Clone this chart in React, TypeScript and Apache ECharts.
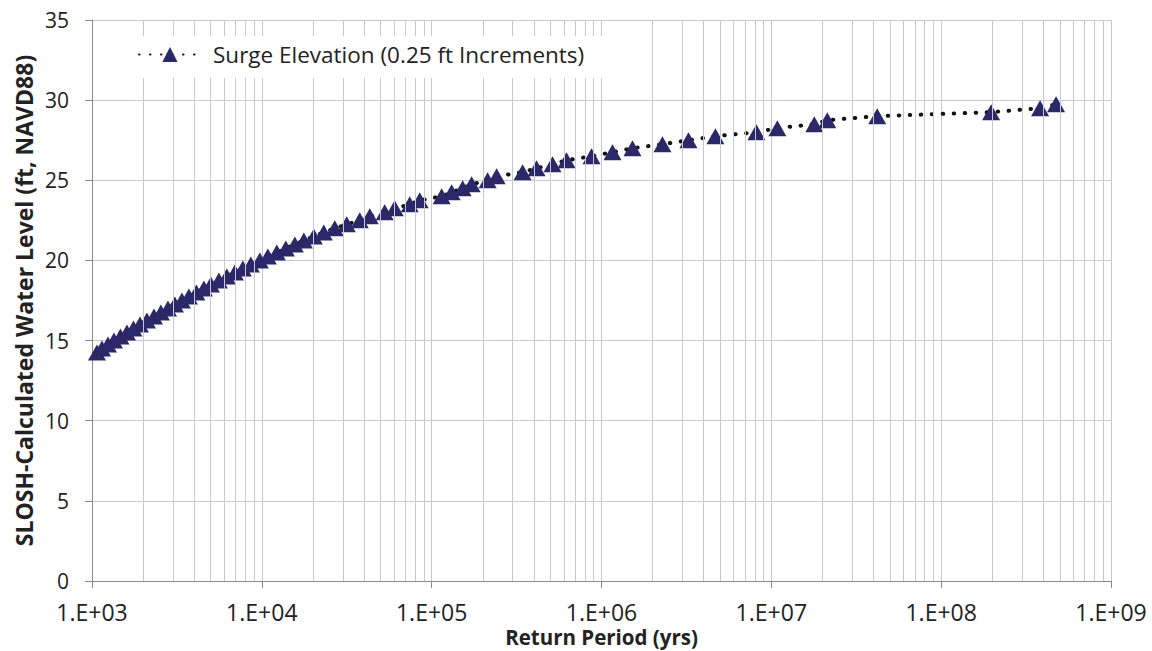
import React, { useEffect, useRef } from "react";
import * as echarts from "echarts";

// Surge elevation levels (ft, NAVD88), 0.25 ft increments
const surgeElevationFt = [
  14.25, 14.5, 14.75, 15, 15.25, 15.5, 15.75, 16, 16.25, 16.5, 16.75, 17, 17.25, 17.5, 17.75,
  18, 18.25, 18.5, 18.75, 19, 19.25, 19.5, 19.75, 20, 20.25, 20.5, 20.75, 21, 21.25, 21.5,
  21.75, 22, 22.25, 22.5, 22.75, 23, 23.25, 23.5, 23.75, 24, 24.25, 24.5, 24.75, 25, 25.25,
  25.5, 25.75, 26, 26.25, 26.5, 26.75, 27, 27.25, 27.5, 27.75, 28, 28.25, 28.5, 28.75, 29,
  29.25, 29.5, 29.75,
];

// Return period (yrs) read for each level
const returnPeriodYrs = [
  1070, 1145, 1242, 1347, 1471, 1607, 1755, 1917, 2106, 2316, 2546, 2800, 3078, 3384, 3721,
  4119, 4559, 5012, 5586, 6225, 6937, 7731, 8616, 9732, 10850, 12250, 13840, 15640, 17670,
  20230, 23160, 26880, 31620, 37720, 43190, 52900, 60580, 74250, 85030, 114500, 131100,
  152200, 171900, 213500, 241300, 343100, 414500, 514900, 622500, 873500, 1161000, 1522000,
  2285000, 3250000, 4684000, 8163000, 10850000, 17900000, 21350000, 42020000, 196800000,
  382200000, 474800000,
];

const seriesName = "Surge Elevation (0.25 ft Increments)";
const xTitle = "Return Period (yrs)";
const yTitle = "SLOSH-Calculated Water Level (ft, NAVD88)";
const xMin = 1e3;
const xMax = 1e9;
const yMin = 0;
const yMax = 35;
const yInterval = 5;
// log-axis minor gridline mantissas
const minorMantissas = [2, 3, 4, 5, 6, 7, 8, 9];

const FONT = "'Open Sans', Lato, sans-serif";
const GRID_COLOR = "#c8c8d2";
const AXIS_COLOR = "#8a8a8a";
const MARK_COLOR = "#2b2869";

export default function App() {
  const ref = useRef<HTMLDivElement>(null);

  useEffect(() => {
    document.body.style.margin = "0";
    if (!ref.current) return;
    const chart = echarts.init(ref.current, undefined, { renderer: "svg" });

    const minorLines: { xAxis: number }[] = [];
    for (let d = xMin; d < xMax; d *= 10) {
      for (const m of minorMantissas) minorLines.push({ xAxis: m * d });
    }

    const data = returnPeriodYrs.map((x, i) => [x, surgeElevationFt[i]]);

    chart.setOption({
      animation: false,
      backgroundColor: "#ffffff",
      textStyle: { fontFamily: FONT },
      grid: {
        left: 92,
        right: 41,
        top: 20,
        bottom: 70,
        containLabel: false,
        outerBoundsMode: "none",
      },
      graphic: [
        {
          type: "rect",
          z: 50,
          silent: true,
          shape: { x: 128, y: 36, width: 476, height: 42 },
          style: { fill: "#ffffff" },
        },
      ],
      legend: {
        data: [seriesName],
        left: 130,
        top: 38,
        z: 60,
        padding: [5, 8, 5, 8],
        itemWidth: 62,
        itemHeight: 19,
        textStyle: { fontFamily: FONT, fontSize: 22.5, color: "#222", padding: [0, 0, 0, 7] },
      },
      xAxis: {
        type: "log",
        logBase: 10,
        min: xMin,
        max: xMax,
        name: xTitle,
        nameLocation: "middle",
        nameGap: 45,
        nameMoveOverlap: false,
        nameTextStyle: {
          fontFamily: FONT,
          fontSize: 20.5,
          fontWeight: "bold",
          color: "#222",
          lineHeight: 21,
        },
        axisLine: { show: true, lineStyle: { color: AXIS_COLOR, width: 1 } },
        axisTick: { show: true, length: 7, lineStyle: { color: AXIS_COLOR } },
        axisLabel: {
          fontFamily: FONT,
          fontSize: 23,
          lineHeight: 23,
          color: "#222",
          margin: 19,
          formatter: (v: number) => {
            const e = Math.round(Math.log10(v));
            return "1.E+" + String(e).padStart(2, "0");
          },
        },
        splitLine: { show: true, lineStyle: { color: GRID_COLOR, width: 1 } },
      },
      yAxis: {
        type: "value",
        min: yMin,
        max: yMax,
        interval: yInterval,
        name: yTitle,
        nameLocation: "middle",
        nameGap: 57,
        nameMoveOverlap: false,
        nameTextStyle: { fontFamily: FONT, fontSize: 23, fontWeight: "bold", color: "#222" },
        axisLine: { show: true, lineStyle: { color: AXIS_COLOR, width: 1 } },
        axisTick: { show: true, length: 7, lineStyle: { color: AXIS_COLOR } },
        axisLabel: { fontFamily: FONT, fontSize: 21, color: "#222", margin: 23 },
        splitLine: { show: true, lineStyle: { color: GRID_COLOR, width: 1 } },
      },
      series: [
        {
          name: "minor-grid",
          type: "line",
          data: [],
          z: 1,
          silent: true,
          markLine: {
            silent: true,
            symbol: ["none", "none"],
            label: { show: false },
            lineStyle: { color: GRID_COLOR, width: 1, type: "solid" },
            data: minorLines,
          },
        },
        {
          name: seriesName,
          type: "line",
          z: 3,
          data,
          symbol: "triangle",
          symbolSize: [18, 16],
          itemStyle: { color: MARK_COLOR },
          lineStyle: { color: "#111", width: 4, type: [0.5, 10.5], cap: "round" },
        },
      ],
    });

    return () => chart.dispose();
  }, []);

  return <div ref={ref} style={{ width: 1152, height: 651 }} />;
}
